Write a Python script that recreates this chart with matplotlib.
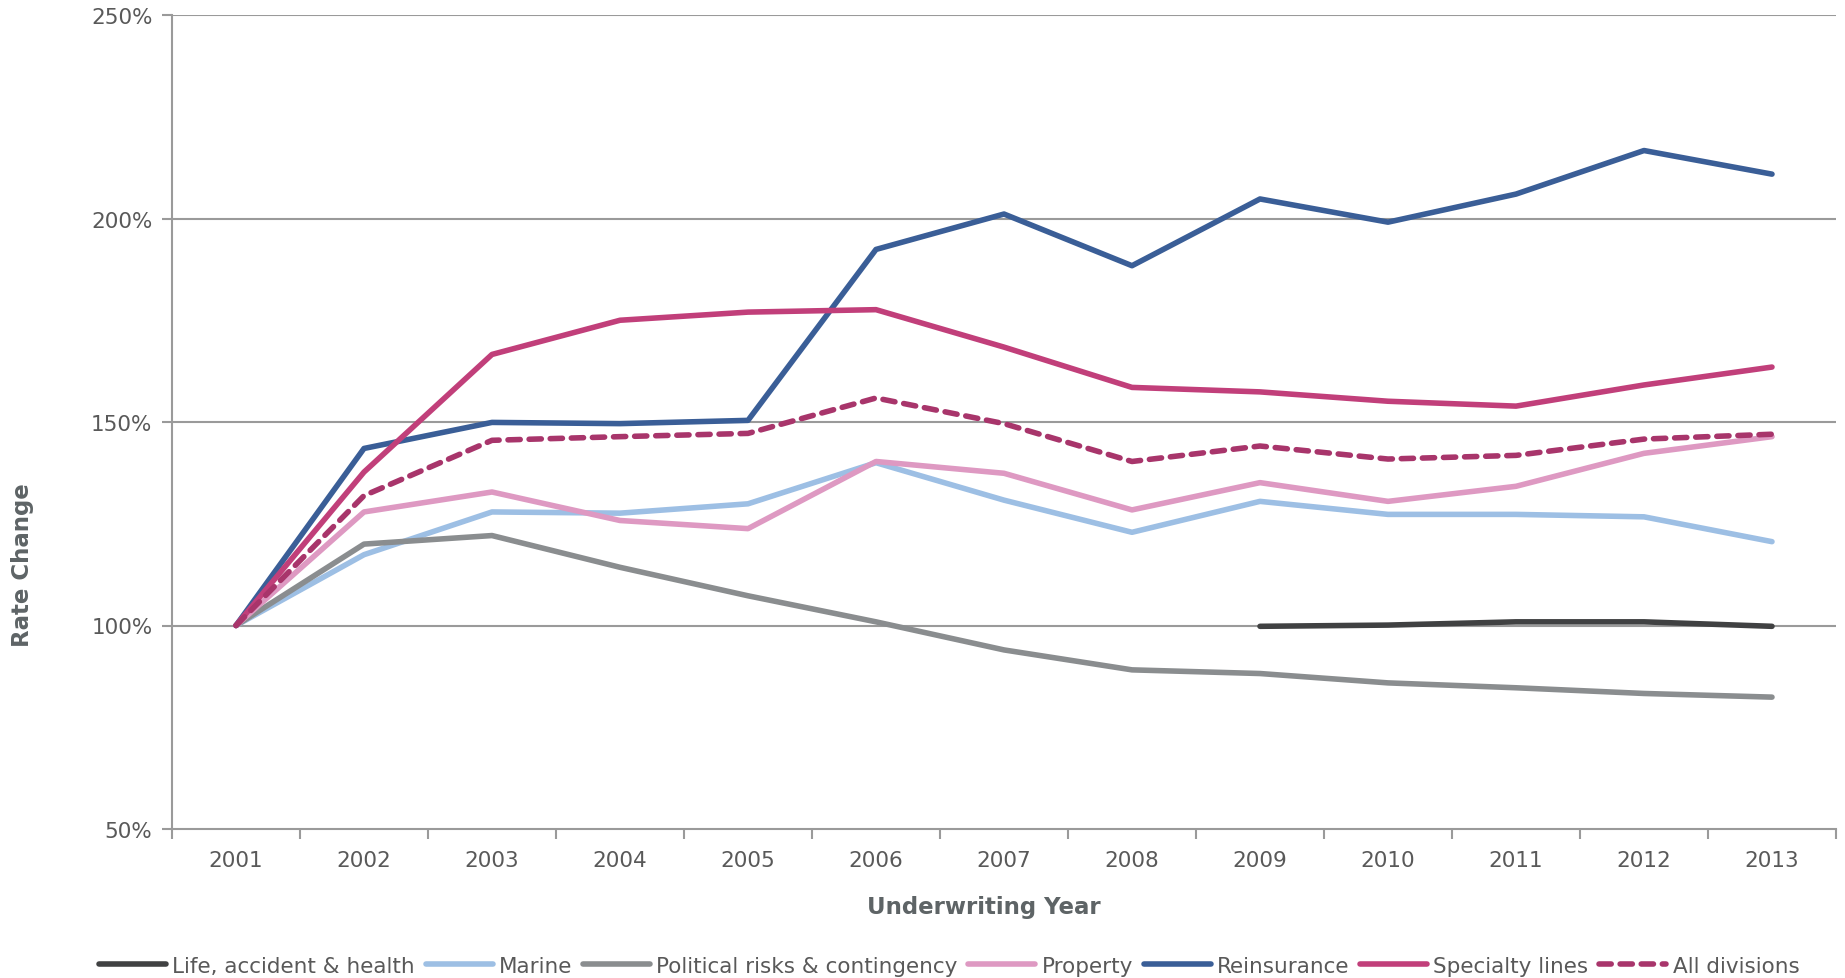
import numpy as np
import matplotlib
matplotlib.use("Agg")
import matplotlib.pyplot as plt

years = ["2001", "2002", "2003", "2004", "2005", "2006", "2007",
         "2008", "2009", "2010", "2011", "2012", "2013"]

# rate index, 2001 = 100%
life = [None, None, None, None, None, None, None, None,
        99.8, 100.1, 100.9, 100.9, 99.8]
marine = [100, 117.4, 127.9, 127.6, 129.9, 140.0, 130.8, 122.9,
          130.5, 127.3, 127.3, 126.7, 120.6]
political = [100, 120.0, 122.1, 114.3, 107.3, 100.9, 94.0, 89.1,
             88.2, 85.9, 84.7, 83.3, 82.4]
property_ = [100, 127.9, 132.8, 125.8, 123.8, 140.3, 137.4, 128.4,
             135.1, 130.5, 134.2, 142.3, 146.4]
reinsurance = [100, 143.5, 149.9, 149.6, 150.4, 192.4, 201.1, 188.4,
               204.8, 199.1, 206.0, 216.7, 210.9]
specialty = [100, 137.7, 166.6, 175.0, 177.0, 177.6, 168.4, 158.5,
             157.4, 155.1, 153.9, 159.1, 163.5]
all_div = [100, 131.9, 145.5, 146.4, 147.2, 155.9, 149.6, 140.3,
           144.1, 140.9, 141.8, 145.8, 147.0]

SERIES = [
    ("Life, accident & health", life, "#404142", "-"),
    ("Marine", marine, "#9DBFE4", "-"),
    ("Political risks & contingency", political, "#8A8D8F", "-"),
    ("Property", property_, "#DE99C2", "-"),
    ("Reinsurance", reinsurance, "#3A5E97", "-"),
    ("Specialty lines", specialty, "#C13F7A", "-"),
    ("All divisions", all_div, "#A8356B", "--"),
]

TXT = "#595959"
GRID = "#9A9A9A"
FS = 15.5

plt.rcParams["font.family"] = "DejaVu Sans"

fig = plt.figure(figsize=(18.45, 9.79), dpi=100)
ax = fig.add_axes([172 / 1845, 1 - 830 / 979, 1664 / 1845, 814 / 979])

x = np.arange(len(years))
for name, vals, col, ls in SERIES:
    y = np.array([np.nan if v is None else v for v in vals], dtype=float)
    if ls == "--":
        ax.plot(x, y, color=col, lw=4, ls=(0, (2.2, 1.6)), label=name,
                dash_capstyle="round", solid_capstyle="round", zorder=3)
    else:
        ax.plot(x, y, color=col, lw=4, ls=ls, label=name,
                solid_capstyle="round", zorder=3)

ax.set_xlim(-0.5, len(years) - 0.5)
ax.set_ylim(50, 250)
ax.set_yticks([50, 100, 150, 200, 250])
ax.set_yticklabels(["50%", "100%", "150%", "200%", "250%"])
ax.set_xticks(x)
ax.set_xticklabels(years)
ax.set_xticks(np.arange(len(years) + 1) - 0.5, minor=True)
ax.tick_params(axis="x", which="major", length=0, pad=15,
               labelsize=FS, labelcolor=TXT)
ax.tick_params(axis="x", which="minor", length=7, width=1.5, color=GRID)
ax.tick_params(axis="y", length=7, width=1.5, color=GRID, pad=7,
               labelsize=FS, labelcolor=TXT)

for v in [100, 150, 200, 250]:
    ax.axhline(v, color=GRID, lw=1.5, zorder=1)

for s in ["top", "right"]:
    ax.spines[s].set_visible(False)
for s in ["left", "bottom"]:
    ax.spines[s].set_color(GRID)
    ax.spines[s].set_linewidth(1.5)

ax.set_xlabel("Underwriting Year", fontsize=16.5, fontweight="bold", color="#5E6466")
ax.xaxis.set_label_coords(0.488, -0.081)
ax.set_ylabel("Rate Change", fontsize=16.5, fontweight="bold", color="#5E6466")
ax.yaxis.set_label_coords(-0.083, 0.326)

fig.legend(loc="center", bbox_to_anchor=(0.5145, 1 - 967 / 979), ncol=7,
           frameon=False, fontsize=FS, labelcolor=TXT,
           handlelength=3.1, handletextpad=0.3, columnspacing=0.5)

fig.savefig("out.png", dpi=100)
